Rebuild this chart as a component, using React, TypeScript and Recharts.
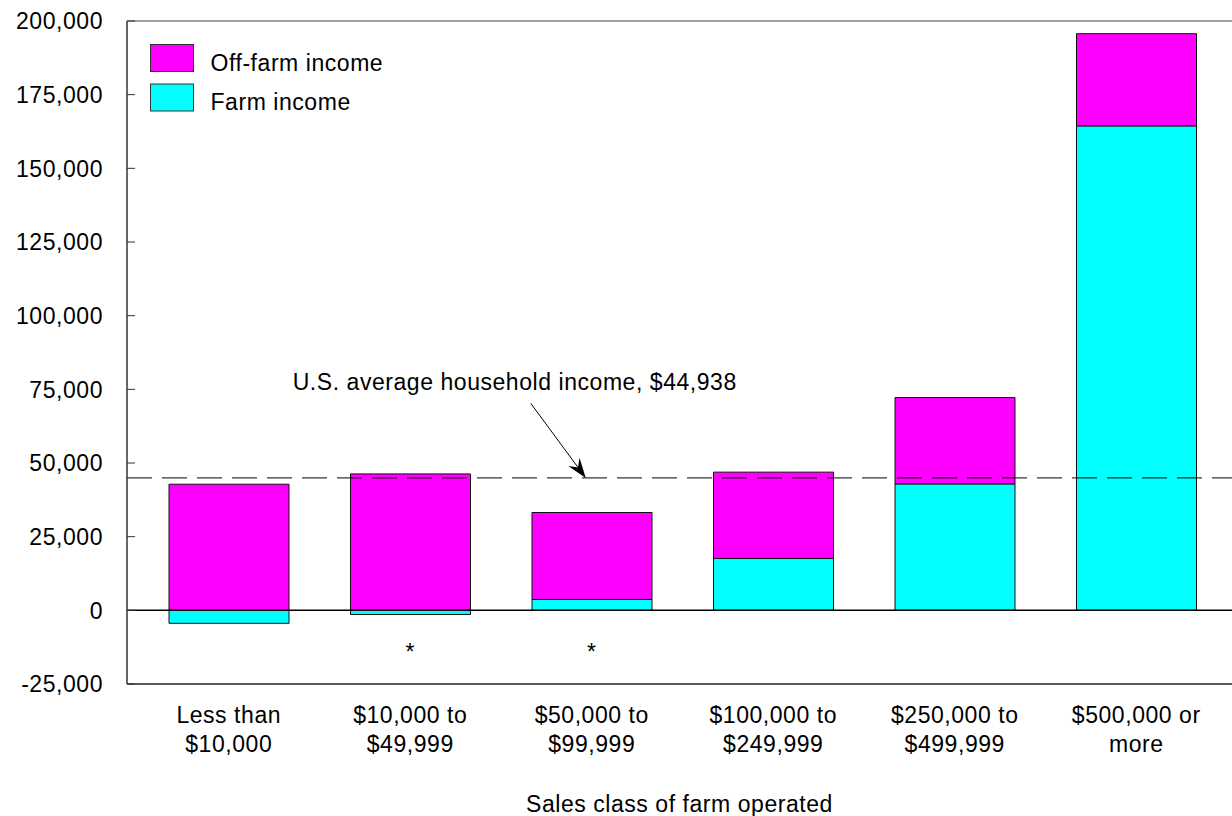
import React from 'react';
import { BarChart, Bar, XAxis, YAxis, ReferenceLine, Legend } from 'recharts';

const FONT = '"Liberation Sans", Arial, Helvetica, sans-serif';
const FS = 23;
const LS = 0.55;

const categories = [
  'Less than\n$10,000',
  '$10,000 to\n$49,999',
  '$50,000 to\n$99,999',
  '$100,000 to\n$249,999',
  '$250,000 to\n$499,999',
  '$500,000 or\nmore',
];
const farmIncome = [-4400, -1400, 3700, 17600, 42900, 164400];
const offFarmIncome = [42800, 46300, 29500, 29300, 29300, 31300];
const notes = ['', '*', '*', '', '', ''];
const yTicks = [-25000, 0, 25000, 50000, 75000, 100000, 125000, 150000, 175000, 200000];
const usAverage = 44938;
const usAverageLabel = 'U.S. average household income, $44,938';
const annotationTailValue = 70250;
const annotationCategoryIndex = 2;
const xAxisTitle = 'Sales class of farm operated';

const data = categories.map((c, i) => ({
  category: c,
  farm: farmIncome[i],
  offFarm: offFarmIncome[i],
}));

const fmt = (v: number) => v.toLocaleString('en-US');

const YTick = (props: any) => {
  const { x, y, payload } = props;
  return (
    <g>
      <text x={x} y={y} dy="0.36em" textAnchor="end" fontSize={FS} fontFamily={FONT} letterSpacing={LS} fill="#000">
        {fmt(payload.value)}
      </text>
      <line x1={x + 24} x2={x + 32} y1={y} y2={y} stroke="#333" strokeWidth={1} />
    </g>
  );
};

const XTick = (props: any) => {
  const { x, y, payload, index } = props;
  const idx = payload && payload.index != null ? payload.index : index;
  const [l1, l2] = String(payload.value).split('\n');
  const note = notes[idx];
  return (
    <g fontSize={FS} fontFamily={FONT} fill="#000" letterSpacing={LS}>
      {note ? (
        <text x={x} y={y - 24} textAnchor="middle">{note}</text>
      ) : null}
      <text x={x} y={y + 39} textAnchor="middle">{l1}</text>
      <text x={x} y={y + 68} textAnchor="middle">{l2}</text>
    </g>
  );
};

const renderLegend = (props: any) => {
  const items = [...(props.payload || [])].reverse();
  return (
    <svg width={260} height={72} style={{ display: 'block', overflow: 'visible' }}>
      {items.map((it: any, i: number) => (
        <g key={it.value}>
          <rect x={0.5} y={0.5 + i * 39.5} width={43} height={27} fill={it.color} stroke="#333" strokeWidth={1} />
          <text x={60.5} y={27 + i * 38.5} fontSize={FS} fontFamily={FONT} letterSpacing={LS} fill="#000">
            {it.value}
          </text>
        </g>
      ))}
    </svg>
  );
};

const AnnotationShape = (props: any) => {
  const { x1, y1, x2, y2 } = props;
  const tail = { x: x1 - 61, y: y1 };
  const tip = { x: x2 - 6, y: y2 };
  const dx = tip.x - tail.x;
  const dy = tip.y - tail.y;
  const len = Math.sqrt(dx * dx + dy * dy);
  const ux = dx / len;
  const uy = dy / len;
  const nx = -uy;
  const ny = ux;
  const L = 20;
  const W = 7;
  const N = 13;
  const p1 = `${tip.x},${tip.y}`;
  const p2 = `${tip.x - L * ux + W * nx},${tip.y - L * uy + W * ny}`;
  const p3 = `${tip.x - N * ux},${tip.y - N * uy}`;
  const p4 = `${tip.x - L * ux - W * nx},${tip.y - L * uy - W * ny}`;
  return (
    <g>
      <line x1={tail.x} y1={tail.y} x2={tip.x - N * ux} y2={tip.y - N * uy} stroke="#000" strokeWidth={1} />
      <polygon points={`${p1} ${p2} ${p3} ${p4}`} fill="#000" />
      <text x={x1 - 77} y={y1 - 13} textAnchor="middle" fontSize={FS} fontFamily={FONT} letterSpacing={LS} fill="#000">
        {usAverageLabel}
      </text>
    </g>
  );
};

export default function App() {
  return (
    <div style={{ position: 'absolute', left: 0, top: 0, width: 1232, height: 816, background: '#fff', fontFamily: FONT }}>
      <BarChart
        width={1232}
        height={816}
        data={data}
        stackOffset="sign"
        margin={{ top: 21, right: 0, bottom: 0, left: 0 }}
        barSize={120}
      >
        <XAxis
          dataKey="category"
          height={132}
          tick={<XTick />}
          tickLine={false}
          tickSize={0}
          tickMargin={0}
          interval={0}
          padding={{ left: 11, right: 5 }}
          axisLine={{ stroke: '#222', strokeWidth: 1.5 }}
          label={{ value: xAxisTitle, position: 'insideBottom', offset: 4, fontSize: FS, fontFamily: FONT, letterSpacing: LS, fill: '#000' }}
        />
        <YAxis
          width={127}
          domain={[-25000, 200000]}
          ticks={yTicks}
          interval={0}
          tick={<YTick />}
          tickLine={false}
          tickSize={0}
          tickMargin={24}
          axisLine={{ stroke: '#333', strokeWidth: 1.5 }}
          allowDataOverflow
        />
        <Legend
          layout="vertical"
          align="center"
          verticalAlign="middle"
          content={renderLegend}
          wrapperStyle={{ left: 150, top: 44, width: 260, height: 72 }}
        />
        <Bar dataKey="farm" name="Farm income" stackId="a" fill="#00FFFF" stroke="#111" strokeWidth={1} isAnimationActive={false} />
        <Bar dataKey="offFarm" name="Off-farm income" stackId="a" fill="#FF00FF" stroke="#111" strokeWidth={1} isAnimationActive={false} />
        <ReferenceLine y={200000} stroke="#808080" strokeWidth={1.5} ifOverflow="visible" />
        <ReferenceLine y={0} stroke="#000" strokeWidth={1.5} />
        <ReferenceLine y={usAverage} stroke="#000" strokeWidth={1} strokeDasharray="25 10" />
        <ReferenceLine
          segment={[
            { x: categories[annotationCategoryIndex], y: annotationTailValue },
            { x: categories[annotationCategoryIndex], y: usAverage },
          ]}
          ifOverflow="visible"
          shape={AnnotationShape}
        />
      </BarChart>
    </div>
  );
}
